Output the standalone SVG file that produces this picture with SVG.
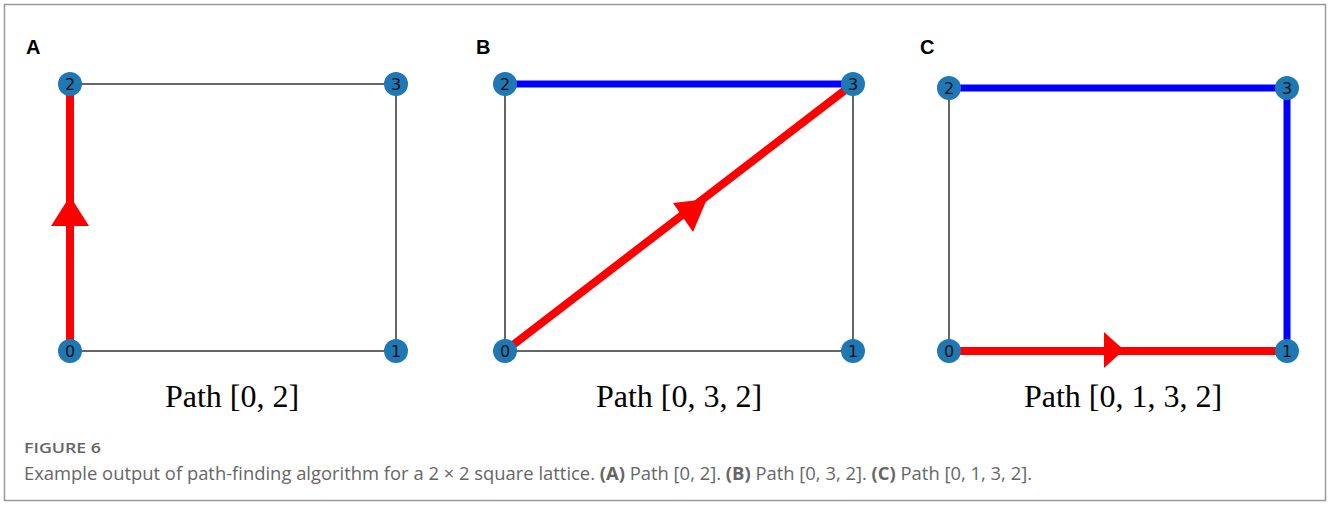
<svg xmlns="http://www.w3.org/2000/svg" width="1328" height="506" viewBox="0 0 1328 506">
<style>
.frame{fill:#fff;stroke:#999;stroke-width:1.5}
.e{stroke:#333;stroke-width:1.5;fill:none}
.r{stroke:#ff0000;stroke-width:8;fill:none}
.b{stroke:#0000ff;stroke-width:7;fill:none}
.ah{fill:#ff0000}
.n circle{fill:#1f77b4}
.n text{font-family:"DejaVu Sans",sans-serif;font-size:16px;fill:#111;text-anchor:middle;dominant-baseline:central}
.pl{font-family:"Liberation Sans",Arial,sans-serif;font-weight:bold;font-size:20px;fill:#000}
.pt{font-family:"Liberation Serif","Times New Roman",serif;font-size:32px;fill:#000;text-anchor:middle}
.fig{font-family:"Open Sans",sans-serif;font-size:15px;fill:#666;font-weight:600}
.cap{font-family:"Open Sans",sans-serif;font-size:18px;fill:#666}
.cap tspan.bd{font-weight:bold}
</style>
<rect class="frame" x="4.5" y="4.5" width="1321" height="496"/>
<g id="connectors">
<line class="e" x1="70" y1="84" x2="396" y2="84"/>
<line class="e" x1="396" y1="84" x2="396" y2="351"/>
<line class="e" x1="70" y1="351" x2="396" y2="351"/>
<line class="r" x1="70" y1="351" x2="70" y2="84"/>
<polygon class="ah" points="70,196 89,226 51,226"/>
<line class="e" x1="505" y1="84" x2="505" y2="351"/>
<line class="e" x1="853" y1="84" x2="853" y2="351"/>
<line class="e" x1="505" y1="351" x2="853" y2="351"/>
<line class="b" x1="505" y1="84" x2="853" y2="84"/>
<line class="r" x1="505" y1="351" x2="853" y2="84"/>
<polygon class="ah" points="707,199 693,232 673,203"/>
<line class="e" x1="949" y1="88" x2="949" y2="351"/>
<line class="b" x1="949" y1="88" x2="1287" y2="88"/>
<line class="b" x1="1287" y1="88" x2="1287" y2="351"/>
<line class="r" x1="949" y1="351" x2="1287" y2="351"/>
<polygon class="ah" points="1124,350 1104,332 1104,368"/>
</g>
<g id="A0" class="n"><circle cx="70" cy="351" r="12"/><text x="70" y="351">0</text></g>
<g id="A1" class="n"><circle cx="396" cy="351" r="12"/><text x="396" y="351">1</text></g>
<g id="A2" class="n"><circle cx="70" cy="84" r="12"/><text x="70" y="84">2</text></g>
<g id="A3" class="n"><circle cx="396" cy="84" r="12"/><text x="396" y="84">3</text></g>
<g id="B0" class="n"><circle cx="505" cy="351" r="12"/><text x="505" y="351">0</text></g>
<g id="B1" class="n"><circle cx="853" cy="351" r="12"/><text x="853" y="351">1</text></g>
<g id="B2" class="n"><circle cx="505" cy="84" r="12"/><text x="505" y="84">2</text></g>
<g id="B3" class="n"><circle cx="853" cy="84" r="12"/><text x="853" y="84">3</text></g>
<g id="C0" class="n"><circle cx="949" cy="351" r="12"/><text x="949" y="351">0</text></g>
<g id="C1" class="n"><circle cx="1287" cy="351" r="12"/><text x="1287" y="351">1</text></g>
<g id="C2" class="n"><circle cx="949" cy="88" r="12"/><text x="949" y="88">2</text></g>
<g id="C3" class="n"><circle cx="1287" cy="88" r="12"/><text x="1287" y="88">3</text></g>
<g id="labels">
<text class="pl" x="26" y="54">A</text>
<text class="pl" x="476" y="54">B</text>
<text class="pl" x="920" y="54">C</text>
<text class="pt" x="232" y="407">Path [0, 2]</text>
<text class="pt" x="679" y="407">Path [0, 3, 2]</text>
<text class="pt" x="1123" y="407">Path [0, 1, 3, 2]</text>
<text class="fig" x="24" y="453" textLength="77" lengthAdjust="spacingAndGlyphs">FIGURE 6</text>
<text class="cap" x="24" y="480" textLength="1008" lengthAdjust="spacingAndGlyphs">Example output of path-finding algorithm for a 2 × 2 square lattice. <tspan class="bd">(A)</tspan> Path [0, 2]. <tspan class="bd">(B)</tspan> Path [0, 3, 2]. <tspan class="bd">(C)</tspan> Path [0, 1, 3, 2].</text>
</g>
</svg>
